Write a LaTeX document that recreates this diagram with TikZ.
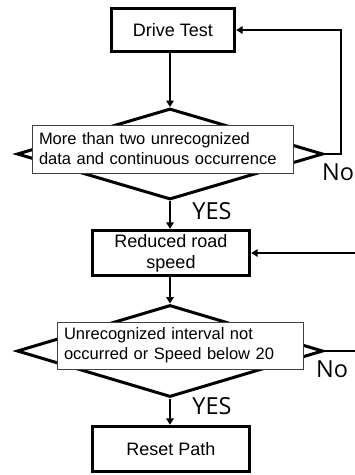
\documentclass[tikz,border=0pt]{standalone}
\usepackage{fontspec}
\setmainfont{Liberation Sans}
\newfontfamily\yesfont{Open Sans}
\usetikzlibrary{shapes.geometric,arrows.meta,calc}
\tikzset{
  procbox/.style={draw=black, line width=3.4pt, fill=white, minimum width=157pt, minimum height=45pt, inner sep=0pt, align=center, font=\fontsize{18}{21}\selectfont},
  decbox/.style={draw=black, diamond, line width=3pt, inner sep=0pt},
  txtbox/.style={draw=black!75, line width=0.9pt, fill=white, inner xsep=7pt, inner ysep=0pt, align=left, font=\fontsize{16.5}{20}\selectfont},
  arr/.style={line width=2.4pt, -{Triangle[length=6.5pt,width=7.5pt]}},
  lbl/.style={font=\yesfont\fontsize{23.5}{26}\selectfont, inner sep=0pt}
}
\begin{document}
\begin{tikzpicture}[x=1pt,y=-1pt]
\useasboundingbox (0,0) rectangle (355,475);
\clip (0,0) rectangle (355,475);
\fill[white] (0,0) rectangle (355,475);

\node[procbox, minimum width=123pt, minimum height=43pt] (dt) at (173,30) {Drive Test};

\node[decbox, minimum width=306pt, minimum height=91pt] (d1) at (170,154) {};
\node[txtbox, text width=247pt, minimum height=48pt] (t1) at (162.5,149) {More than two unrecognized\\data and continuous occurrence};

\node[procbox] (rr) at (171,253) {Reduced road\\speed};

\node[decbox, minimum width=306pt, minimum height=92pt] (d2) at (170,351) {};
\node[txtbox, text width=232pt, minimum height=47pt] (t2) at (180,345.5) {Unrecognized interval not\\occurred or Speed below 20};

\node[procbox] (rp) at (171,449) {Reset Path};

\node[lbl] (yes1) at (212,211) {YES};
\node[lbl] (yes2) at (212,406.5) {YES};
\node[lbl, anchor=west] (no1) at (322,172.5) {No};
\node[lbl, anchor=west] (no2) at (316,369.5) {No};

\coordinate (loop1) at (341,30);
\coordinate (loop2) at (375,253);

\draw[arr] (d1.north |- dt.south) -- (d1.north);
\draw[arr] (d1.south) -- (d1.south |- rr.north);
\draw[arr] (rr.south -| d2.north) -- (d2.north);
\draw[arr] (d2.south) -- (d2.south |- rp.north);
\draw[arr, line cap=rect] (d1.east) -| (loop1) -- (dt.east);
\draw[arr] (d2.east) -| (loop2) -- (rr.east);
\end{tikzpicture}
\end{document}
